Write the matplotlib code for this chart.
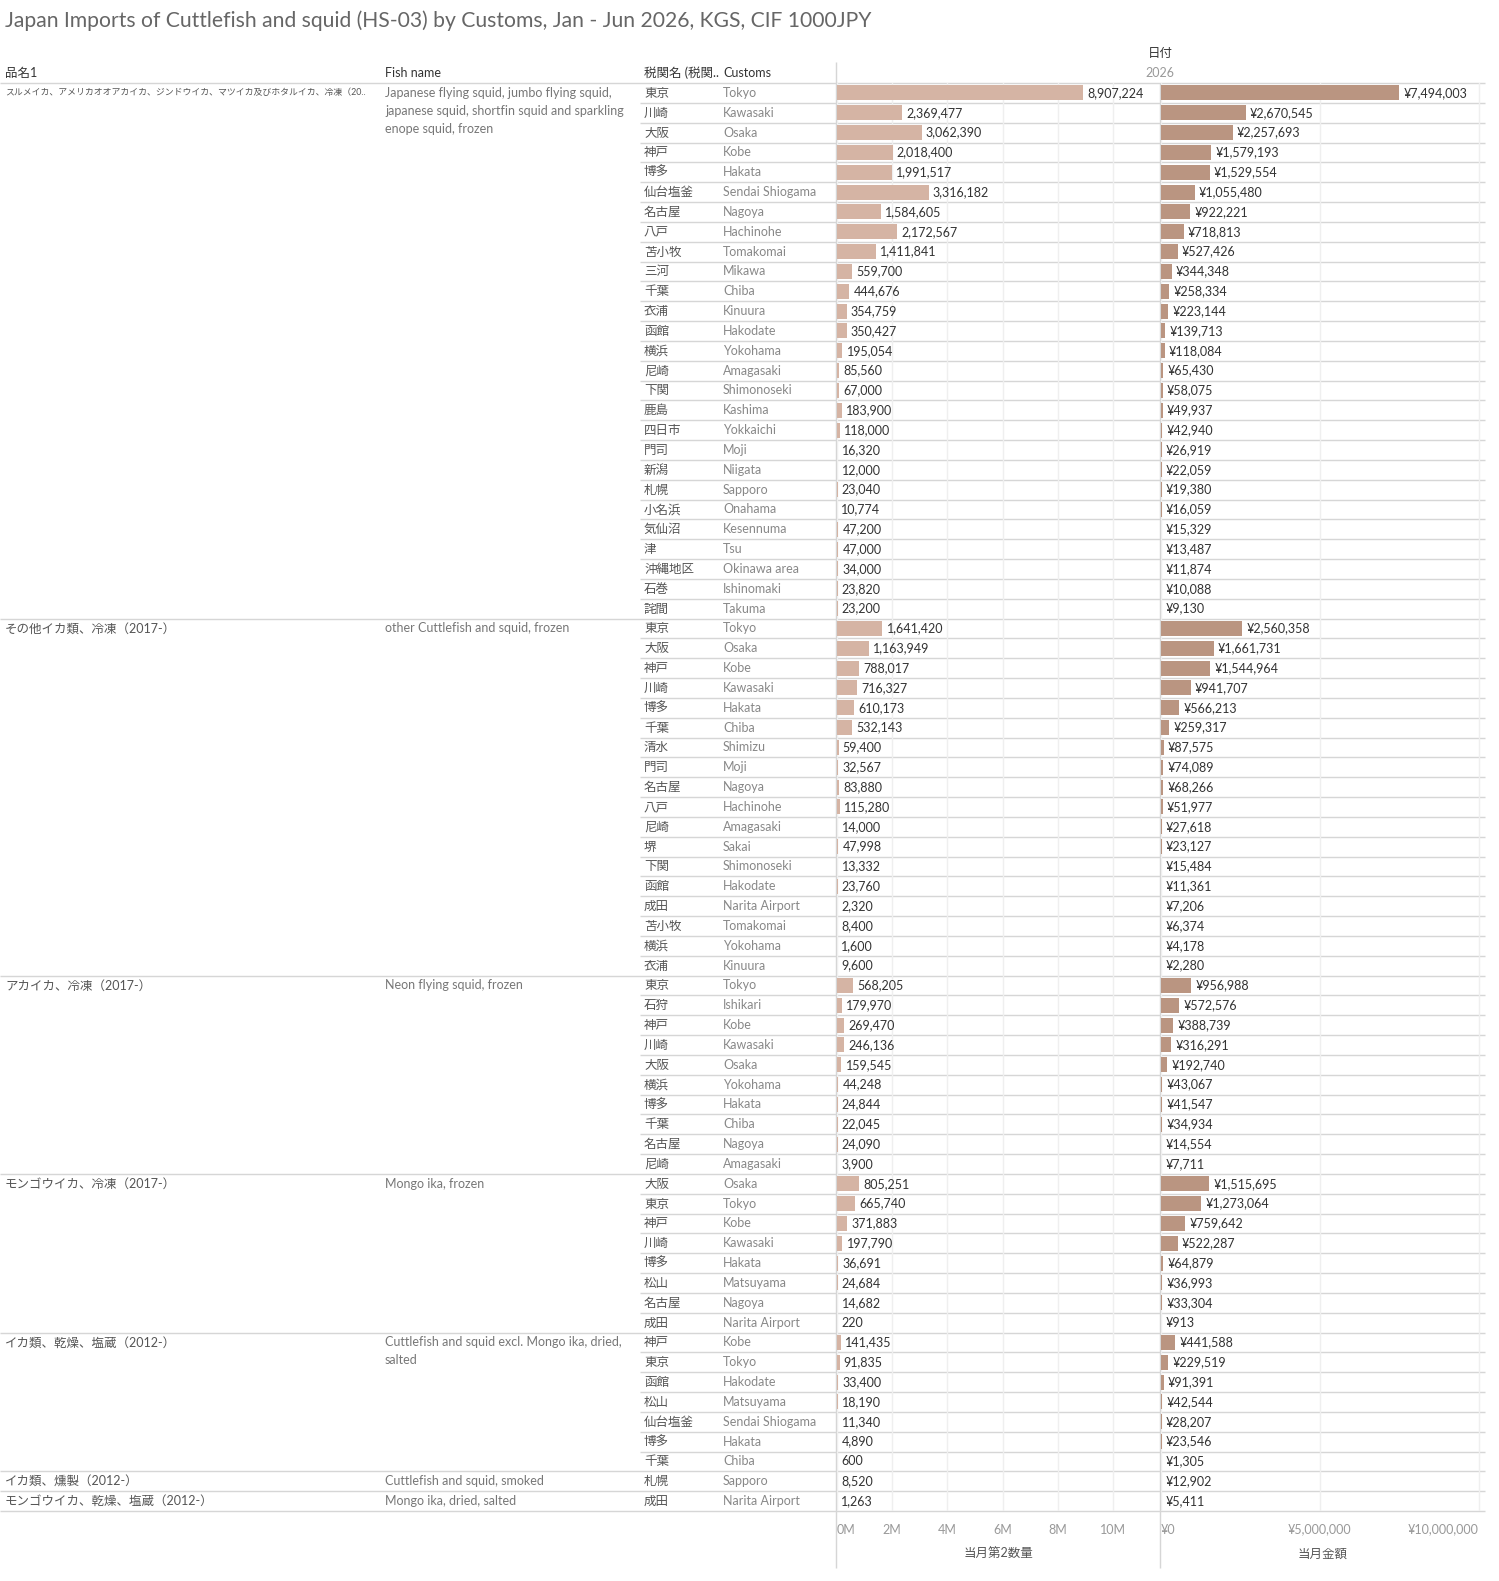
import textwrap
import numpy as np
import matplotlib
matplotlib.use("Agg")
import matplotlib.pyplot as plt

plt.rcParams['font.family'] = ['Lato', 'Noto Sans CJK JP', 'DejaVu Sans']

title = "Japan Imports of Cuttlefish and squid (HS-03) by Customs, Jan - Jun 2026, KGS, CIF 1000JPY"

group_jp = [
    "スルメイカ、アメリカオオアカイカ、ジンドウイカ、マツイカ及びホタルイカ、冷凍（20..",
    "その他イカ類、冷凍（2017-）",
    "アカイカ、冷凍（2017-）",
    "モンゴウイカ、冷凍（2017-）",
    "イカ類、乾燥、塩蔵（2012-）",
    "イカ類、燻製（2012-）",
    "モンゴウイカ、乾燥、塩蔵（2012-）",
]
group_en = [
    "Japanese flying squid, jumbo flying squid, japanese squid, shortfin squid and sparkling enope squid, frozen",
    "other Cuttlefish and squid, frozen",
    "Neon flying squid, frozen",
    "Mongo ika, frozen",
    "Cuttlefish and squid excl. Mongo ika, dried, salted",
    "Cuttlefish and squid, smoked",
    "Mongo ika, dried, salted",
]
group_size = [27, 18, 10, 8, 7, 1, 1]

customs_jp = [
    "東京", "川崎", "大阪", "神戸", "博多", "仙台塩釜", "名古屋", "八戸", "苫小牧", "三河",
    "千葉", "衣浦", "函館", "横浜", "尼崎", "下関", "鹿島", "四日市", "門司", "新潟",
    "札幌", "小名浜", "気仙沼", "津", "沖縄地区", "石巻", "詫間",
    "東京", "大阪", "神戸", "川崎", "博多", "千葉", "清水", "門司", "名古屋", "八戸",
    "尼崎", "堺", "下関", "函館", "成田", "苫小牧", "横浜", "衣浦",
    "東京", "石狩", "神戸", "川崎", "大阪", "横浜", "博多", "千葉", "名古屋", "尼崎",
    "大阪", "東京", "神戸", "川崎", "博多", "松山", "名古屋", "成田",
    "神戸", "東京", "函館", "松山", "仙台塩釜", "博多", "千葉",
    "札幌",
    "成田",
]
customs_en = [
    "Tokyo", "Kawasaki", "Osaka", "Kobe", "Hakata", "Sendai Shiogama", "Nagoya", "Hachinohe",
    "Tomakomai", "Mikawa", "Chiba", "Kinuura", "Hakodate", "Yokohama", "Amagasaki",
    "Shimonoseki", "Kashima", "Yokkaichi", "Moji", "Niigata", "Sapporo", "Onahama",
    "Kesennuma", "Tsu", "Okinawa area", "Ishinomaki", "Takuma",
    "Tokyo", "Osaka", "Kobe", "Kawasaki", "Hakata", "Chiba", "Shimizu", "Moji", "Nagoya",
    "Hachinohe", "Amagasaki", "Sakai", "Shimonoseki", "Hakodate", "Narita Airport",
    "Tomakomai", "Yokohama", "Kinuura",
    "Tokyo", "Ishikari", "Kobe", "Kawasaki", "Osaka", "Yokohama", "Hakata", "Chiba",
    "Nagoya", "Amagasaki",
    "Osaka", "Tokyo", "Kobe", "Kawasaki", "Hakata", "Matsuyama", "Nagoya", "Narita Airport",
    "Kobe", "Tokyo", "Hakodate", "Matsuyama", "Sendai Shiogama", "Hakata", "Chiba",
    "Sapporo",
    "Narita Airport",
]
quantity = [
    8907224, 2369477, 3062390, 2018400, 1991517, 3316182, 1584605, 2172567, 1411841, 559700,
    444676, 354759, 350427, 195054, 85560, 67000, 183900, 118000, 16320, 12000,
    23040, 10774, 47200, 47000, 34000, 23820, 23200,
    1641420, 1163949, 788017, 716327, 610173, 532143, 59400, 32567, 83880, 115280,
    14000, 47998, 13332, 23760, 2320, 8400, 1600, 9600,
    568205, 179970, 269470, 246136, 159545, 44248, 24844, 22045, 24090, 3900,
    805251, 665740, 371883, 197790, 36691, 24684, 14682, 220,
    141435, 91835, 33400, 18190, 11340, 4890, 600,
    8520,
    1263,
]
value = [
    7494003, 2670545, 2257693, 1579193, 1529554, 1055480, 922221, 718813, 527426, 344348,
    258334, 223144, 139713, 118084, 65430, 58075, 49937, 42940, 26919, 22059,
    19380, 16059, 15329, 13487, 11874, 10088, 9130,
    2560358, 1661731, 1544964, 941707, 566213, 259317, 87575, 74089, 68266, 51977,
    27618, 23127, 15484, 11361, 7206, 6374, 4178, 2280,
    956988, 572576, 388739, 316291, 192740, 43067, 41547, 34934, 14554, 7711,
    1515695, 1273064, 759642, 522287, 64879, 36993, 33304, 913,
    441588, 229519, 91391, 42544, 28207, 23546, 1305,
    12902,
    5411,
]

qty_ticks = [0, 2e6, 4e6, 6e6, 8e6, 10e6]
qty_ticklabels = ["0M", "2M", "4M", "6M", "8M", "10M"]
val_ticks = [0, 5e6, 10e6]
val_ticklabels = ["¥0", "¥5,000,000", "¥10,000,000"]

W, H = 1499, 1581
fig = plt.figure(figsize=(W / 100, H / 100), dpi=100)
bg = fig.add_axes([0, 0, 1, 1])
bg.set_xlim(0, W)
bg.set_ylim(H, 0)
bg.axis("off")

n = len(quantity)
top, bottom = 83, 1511
rh = (bottom - top) / n
line_c = "#d6d6d6"
fs = 9


def ry(i):
    return top + (i + 0.5) * rh


# title and headers
bg.text(5, 21, title, fontsize=15.2, color="#666666", va="center")
bg.text(1160, 53, "日付", fontsize=fs, color="#333333", ha="center", va="center")
bg.text(1160, 73, "2026", fontsize=fs, color="#999999", ha="center", va="center")
for x, s in [(5, "品名1"), (385, "Fish name"), (644, "税関名 (税関.."), (723, "Customs")]:
    bg.text(x, 73, s, fontsize=fs, color="#333333", va="center")

# row lines
starts = np.cumsum([0] + group_size)
for k in range(n + 1):
    y = top + k * rh
    x0 = 0 if k in starts else 640
    bg.hlines(y, x0, 1485, color=line_c, lw=1)
bg.vlines(836, 62, 1568, color=line_c, lw=1)
bg.vlines(1160, top, 1568, color=line_c, lw=1)

# group labels
for g, s0 in enumerate(starts[:-1]):
    size = 6.4 if g == 0 else fs
    bg.text(5, ry(s0), group_jp[g], fontsize=size, color="#555555", va="center")
    for j, line in enumerate(textwrap.wrap(group_en[g], 44)):
        bg.text(385, ry(s0) + j * 18, line, fontsize=fs, color="#777777", va="center")

for i in range(n):
    bg.text(644, ry(i), customs_jp[i], fontsize=fs, color="#555555", va="center")
    bg.text(723, ry(i), customs_en[i], fontsize=fs, color="#888888", va="center")


def panel(x0, x1, vals, color, xmax, ticks, ticklabels, fmt, xlabel):
    ax = fig.add_axes([x0 / W, 1 - bottom / H, (x1 - x0) / W, (bottom - top) / H])
    ax.patch.set_visible(False)
    for sp in ax.spines.values():
        sp.set_visible(False)
    ax.set_ylim(n, 0)
    ax.set_xlim(0, xmax)
    bars = ax.barh(np.arange(n) + 0.5, vals, height=0.76, color=color)
    ax.bar_label(bars, labels=[fmt.format(v) for v in vals], padding=3,
                 fontsize=fs, color="#333333")
    ax.set_yticks([])
    ax.set_xticks(ticks)
    ax.set_xticklabels(ticklabels)
    ax.tick_params(axis="x", length=0, pad=9, labelsize=fs, labelcolor="#999999")
    labs = ax.get_xticklabels()
    labs[0].set_ha("left")
    if x1 > 1400:
        labs[-1].set_ha("right")
    ax.grid(axis="x", color="#efefef", lw=1)
    ax.set_axisbelow(True)
    ax.set_xlabel(xlabel, fontsize=fs, color="#555555", labelpad=9)
    return ax


panel(837, 1160, quantity, "#d5b4a4", 323 / 27.6 * 1e6, qty_ticks, qty_ticklabels,
      "{:,}", "当月第2数量")
panel(1161, 1485, value, "#ba9581", 324 / 31.76 * 1e6, val_ticks, val_ticklabels,
      "¥{:,}", "当月金額")

fig.savefig("out.png", dpi=100)
